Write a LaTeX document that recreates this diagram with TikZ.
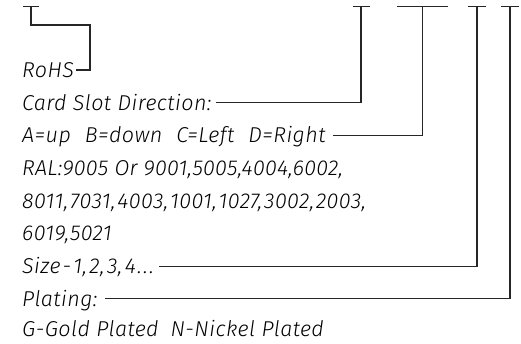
\documentclass[tikz,border=0pt]{standalone}
\usepackage{fontspec}
\setmainfont{DejaVu Sans}
\newfontfamily\cadfont[LetterSpace=2]{Fira Sans Light Italic}
\newfontfamily\cadfontn[LetterSpace=1.2]{Fira Sans Light Italic}
\newcommand\cm{,\hspace{1.8pt}}
\newcommand\szc{,\hspace{2.5pt}}
\begin{document}
\begin{tikzpicture}[x=1pt,y=-1pt,
  lbl/.style={anchor=base west,inner sep=0pt,font=\cadfont\fontsize{21.5}{21.5}\selectfont},
  lead/.style={line width=1.1pt,line cap=butt,color=black!85}]
\useasboundingbox (0,0) rectangle (521,343);
\def\dy{7.4}
\node[lbl] (rohs) at (22,70+\dy) {RoHS};
\node[lbl] (card) at (22,102.7+\dy) {Card Slot Direction:};
\node[lbl] (abcd) at (22,135.4+\dy) {A=up\hspace{14pt}B=down\hspace{14pt}C=Left\hspace{14pt}D=Right};
\node[lbl,font=\cadfontn\fontsize{21.5}{21.5}\selectfont] (ral1) at (22,168.1+\dy) {RAL:9005 Or 9001,5005,4004,6002,};
\node[lbl] (ral2) at (22,200.8+\dy) {8011\cm7031\cm4003\cm1001\cm1027\cm3002\cm2003,};
\node[lbl] (ral3) at (22,233.5+\dy) {6019,5021};
\node[lbl] (size) at (22,266.2+\dy) {Size\hspace{2pt}-\hspace{2pt}1\szc2\szc3\szc4\hspace{1.5pt}.\hspace{1.5pt}.\hspace{1.5pt}.};
\node[lbl] (plat) at (22,298.9+\dy) {Plating:};
\node[lbl] (gold) at (22,329.5+\dy) {G-Gold Plated\hspace{12pt}N-Nickel Plated};
% tops of the leaders
\coordinate (t0) at (31,6.5);
\coordinate (t1) at (361,6.5);
\coordinate (t2) at (422.5,6.5);
\coordinate (t3) at (477,6.5);
\coordinate (t4) at (510,6.5);
\draw[lead] (23,6.5) -- (39,6.5);
\draw[lead] (352.5,6.5) -- (369.5,6.5);
\draw[lead] (397,6.5) -- (448,6.5);
\draw[lead] (468,6.5) -- (486,6.5);
\draw[lead] (501,6.5) -- (519,6.5);
\draw[lead] (t0) |- (90,25) |- (76,70);
\draw[lead] (t1) |- (216,102.7);
\draw[lead] (t2) |- (333,135.4);
\draw[lead] (t3) |- (159,266.2);
\draw[lead] (t4) |- (105,298.9);
\end{tikzpicture}
\end{document}
